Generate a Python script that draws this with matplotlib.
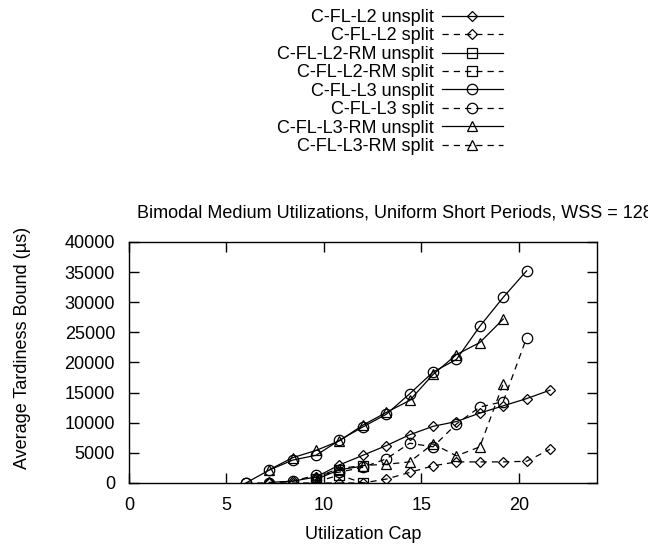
import matplotlib
matplotlib.use("Agg")
import matplotlib.pyplot as plt
import numpy as np

plt.rcParams['font.family'] = ['Liberation Sans', 'DejaVu Sans']

# utilization caps used by the experiment
util_cap = [6.0, 7.2, 8.4, 9.6, 10.8, 12.0, 13.2, 14.4, 15.6, 16.8, 18.0, 19.2, 20.4, 21.6]

# series values (microseconds)
l2_unsplit_x = util_cap[1:]
l2_unsplit_y = [100, 300, 1000, 3000, 4600, 6200, 8000, 9400, 10200, 11600, 12800, 14000, 15400]
l2_split_x = util_cap[1:]
l2_split_y = [0, 0, 0, 0, 0, 650, 1750, 2850, 3500, 3500, 3500, 3600, 5600]
l2rm_unsplit_x = util_cap[3:6]
l2rm_unsplit_y = [600, 2200, 2800]
l2rm_split_x = util_cap[3:6]
l2rm_split_y = [200, 1300, 0]
l3_unsplit_x = util_cap[:13]
l3_unsplit_y = [0, 2150, 3800, 4600, 7100, 9300, 11400, 14800, 18400, 20500, 26000, 30800, 35200]
l3_split_x = util_cap[:13]
l3_split_y = [0, 0, 300, 1300, 1800, 2600, 4000, 6600, 6000, 9800, 12600, 13500, 24100]
l3rm_unsplit_x = util_cap[1:12]
l3rm_unsplit_y = [2200, 4200, 5400, 7000, 9600, 11700, 13700, 18000, 21300, 23300, 27200]
l3rm_split_x = util_cap[3:12]
l3rm_split_y = [1000, 2400, 2900, 3100, 3500, 6500, 4500, 6000, 16500]

series = [
    ("C-FL-L2 unsplit", l2_unsplit_x, l2_unsplit_y, 'D', '-'),
    ("C-FL-L2 split", l2_split_x, l2_split_y, 'D', '--'),
    ("C-FL-L2-RM unsplit", l2rm_unsplit_x, l2rm_unsplit_y, 's', '-'),
    ("C-FL-L2-RM split", l2rm_split_x, l2rm_split_y, 's', '--'),
    ("C-FL-L3 unsplit", l3_unsplit_x, l3_unsplit_y, 'o', '-'),
    ("C-FL-L3 split", l3_split_x, l3_split_y, 'o', '--'),
    ("C-FL-L3-RM unsplit", l3rm_unsplit_x, l3rm_unsplit_y, '^', '-'),
    ("C-FL-L3-RM split", l3rm_split_x, l3rm_split_y, '^', '--'),
]

fig = plt.figure(figsize=(6.48, 5.46), dpi=100)
ax = fig.add_axes([0.199, 0.1154, 0.722, 0.4416])

sizes = {'D': 5.5, 's': 6.5, 'o': 7.5, '^': 6.5}
handles = []
for label, xs, ys, mk, ls in series:
    h, = ax.plot(xs, ys, color='black', linestyle=ls, linewidth=0.9,
                 marker=mk, markersize=sizes[mk], markerfacecolor='none',
                 markeredgecolor='black', markeredgewidth=0.9,
                 dashes=(5, 4) if ls == '--' else (None, None), label=label)
    handles.append(h)

ax.set_xlim(0, 24)
ax.set_ylim(0, 40000)
ax.set_xticks([0, 5, 10, 15, 20])
ax.set_yticks(np.arange(0, 40001, 5000))
ax.tick_params(direction='in', length=7, width=1, top=True, right=True,
               labelsize=13, pad=10)
for s in ax.spines.values():
    s.set_linewidth(1)

ax.set_xlabel("Utilization Cap", fontsize=13, labelpad=9)
# y label sits a little above the axes centre, as in gnuplot
fig.text(23 / 648, 1 - 348 / 546, "Average Tardiness Bound (\u00b5s)", fontsize=13,
         rotation=90, ha='center', va='center')
fig.text(137 / 648, 1 - 213 / 546, "Bimodal Medium Utilizations, Uniform Short Periods, WSS = 128",
         fontsize=13, ha='left', va='center')

fig.legend(handles=handles, loc='upper right', bbox_to_anchor=(503 / 648, 1 - 9 / 546),
           markerfirst=False, frameon=False, fontsize=13, handlelength=3.4,
           handletextpad=0.45, labelspacing=0.08, borderaxespad=0, borderpad=0)

fig.savefig("out.png", dpi=100)
